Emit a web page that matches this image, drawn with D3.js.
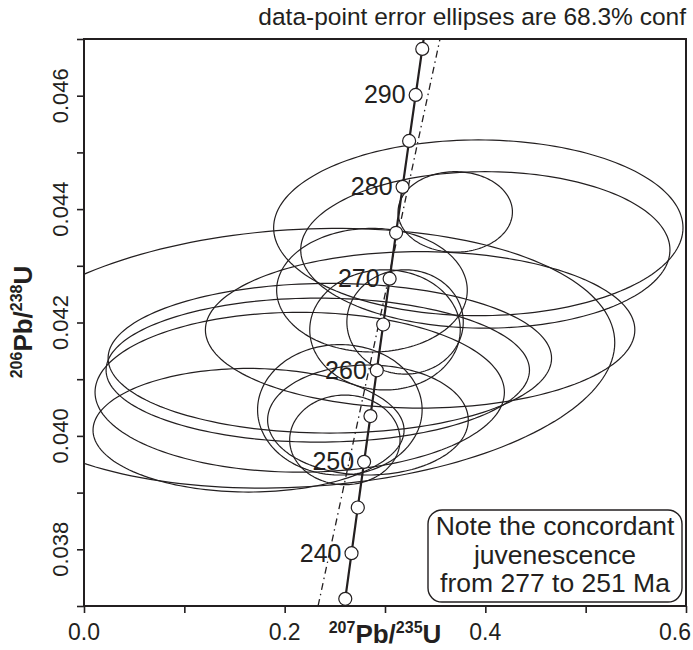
<!DOCTYPE html>
<html>
<head>
<meta charset="utf-8">
<script src="https://cdn.jsdelivr.net/npm/d3@7"></script>
<style>
  body { margin: 0; background: #fff; }
  text { font-family: "Liberation Sans", Arial, sans-serif; fill: #231f20; }
</style>
</head>
<body>
<svg id="chart" width="693" height="650"></svg>
<script>
// ---- data ----
// concordia age marks (Ma) and which of them carry a label
const markAges = [235, 240, 245, 250, 255, 260, 265, 270, 275, 280, 285, 290, 295];
const labelAges = [240, 250, 260, 270, 280, 290];

// analyses: ellipse centres (207Pb/235U, 206Pb/238U), half widths, error correlation
const ellX   = [0.393, 0.400, 0.370, 0.214, 0.335, 0.287, 0.233, 0.245, 0.215, 0.300, 0.320, 0.255, 0.260, 0.164, 0.283];
const ellY   = [0.04367, 0.04328, 0.04395, 0.04137, 0.04187, 0.04257, 0.04116, 0.04137, 0.04077, 0.04187, 0.04201, 0.04046, 0.03993, 0.04010, 0.04028];
const ellSX  = [0.204, 0.184, 0.057, 0.315, 0.214, 0.095, 0.211, 0.221, 0.204, 0.075, 0.058, 0.082, 0.055, 0.155, 0.100];
const ellSY  = [0.00155, 0.00138, 0.00071, 0.00229, 0.00138, 0.00109, 0.00127, 0.00132, 0.00141, 0.00106, 0.00092, 0.00115, 0.00079, 0.00109, 0.00097];
const ellRho = [0, 0, 0, 0.12, 0, 0, 0, 0, 0, 0, 0, 0, 0, 0, 0];

// dash-dot reference line end points
const refX = [0.2333, 0.3548];
const refY = [0.0370, 0.0470];

// axes
const xTicks = [0, 0.1, 0.2, 0.3, 0.4, 0.5, 0.6];
const xTickLabels = [0, 0.2, 0.4, 0.6];
const yTicks = [0.037, 0.038, 0.039, 0.040, 0.041, 0.042, 0.043, 0.044, 0.045, 0.046, 0.047];
const yTickLabels = [0.038, 0.040, 0.042, 0.044, 0.046];

// U decay constants (1/yr)
const L238 = 1.55125e-10, L235 = 9.8485e-10;
const conc = t => ({ x: Math.exp(L235 * t * 1e6) - 1, y: Math.exp(L238 * t * 1e6) - 1 });

// ---- layout ----
const svg = d3.select("#chart");
const m = { left: 84, top: 39, right: 686, bottom: 606 };
const x = d3.scaleLinear().domain([0, 0.6]).range([m.left, m.right]);
const y = d3.scaleLinear().domain([0.037, 0.047]).range([m.bottom, m.top]);
const ink = "#231f20";

svg.append("defs").append("clipPath").attr("id", "plot")
  .append("rect").attr("x", m.left).attr("y", m.top)
  .attr("width", m.right - m.left).attr("height", m.bottom - m.top);

const plot = svg.append("g").attr("clip-path", "url(#plot)");

// error ellipses
const ellLine = d3.line().x(d => x(d[0])).y(d => y(d[1])).curve(d3.curveLinearClosed);
const steps = d3.range(0, 2 * Math.PI, Math.PI / 90);
ellX.forEach((cx, i) => {
  const r = ellRho[i], sx = ellSX[i], sy = ellSY[i];
  const pts = steps.map(a => [cx + sx * Math.cos(a),
                              ellY[i] + sy * (r * Math.cos(a) + Math.sqrt(1 - r * r) * Math.sin(a))]);
  plot.append("path").attr("d", ellLine(pts))
    .attr("fill", "none").attr("stroke", ink).attr("stroke-width", 1.2);
});

// dash-dot line
plot.append("line")
  .attr("x1", x(refX[0])).attr("y1", y(refY[0]))
  .attr("x2", x(refX[1])).attr("y2", y(refY[1]))
  .attr("stroke", ink).attr("stroke-width", 1.3)
  .attr("stroke-dasharray", "7,4,1.5,4");

// concordia curve
const concPts = d3.range(230, 301, 0.5).map(conc);
plot.append("path")
  .attr("d", d3.line().x(d => x(d.x)).y(d => y(d.y))(concPts))
  .attr("fill", "none").attr("stroke", ink).attr("stroke-width", 2.2);

// age marks
plot.selectAll("circle.age").data(markAges).join("circle")
  .attr("class", "age")
  .attr("cx", t => x(conc(t).x)).attr("cy", t => y(conc(t).y)).attr("r", 6.5)
  .attr("fill", "#fff").attr("stroke", ink).attr("stroke-width", 1.2);

plot.selectAll("text.age").data(labelAges).join("text")
  .attr("class", "age")
  .attr("x", t => x(conc(t).x) - 10).attr("y", t => y(conc(t).y) + 8.5)
  .attr("text-anchor", "end").attr("font-size", 25)
  .text(t => t);

// frame
svg.append("rect").attr("x", m.left).attr("y", m.top)
  .attr("width", m.right - m.left).attr("height", m.bottom - m.top)
  .attr("fill", "none").attr("stroke", ink).attr("stroke-width", 2);

// x axis
const xAxis = svg.append("g").attr("transform", `translate(0,${m.bottom})`)
  .call(d3.axisBottom(x).tickValues(xTicks).tickSize(7).tickFormat(""));
xAxis.select(".domain").remove();
xAxis.selectAll(".tick line").attr("stroke", ink).attr("stroke-width", 1.6);
svg.append("g").selectAll("text").data(xTickLabels).join("text")
  .attr("x", (d, i) => i === xTickLabels.length - 1 ? 691 : x(d))
  .attr("y", 640)
  .attr("text-anchor", (d, i) => i === xTickLabels.length - 1 ? "end" : "middle")
  .attr("font-size", 23)
  .text(d => d3.format(".1f")(d));

// y axis
const yAxis = svg.append("g").attr("transform", `translate(${m.left},0)`)
  .call(d3.axisLeft(y).tickValues(yTicks).tickSize(7).tickFormat(""));
yAxis.select(".domain").remove();
yAxis.selectAll(".tick line").attr("stroke", ink).attr("stroke-width", 1.6);
svg.append("g").selectAll("text").data(yTickLabels).join("text")
  .attr("transform", d => `translate(68,${y(d)}) rotate(-90)`)
  .attr("text-anchor", "middle").attr("font-size", 22)
  .text(d => d3.format(".3f")(d));

// axis titles
const xt = svg.append("text").attr("x", 385).attr("y", 643)
  .attr("text-anchor", "middle").attr("font-weight", "bold").attr("font-size", 26);
xt.append("tspan").attr("font-size", 16).attr("dy", -10).text("207");
xt.append("tspan").attr("dy", 10).text("Pb/");
xt.append("tspan").attr("font-size", 16).attr("dy", -10).text("235");
xt.append("tspan").attr("dy", 10).text("U");

const yt = svg.append("text").attr("transform", "translate(32,322) rotate(-90)")
  .attr("text-anchor", "middle").attr("font-weight", "bold").attr("font-size", 26);
yt.append("tspan").attr("font-size", 16).attr("dy", -10).text("206");
yt.append("tspan").attr("dy", 10).text("Pb/");
yt.append("tspan").attr("font-size", 16).attr("dy", -10).text("238");
yt.append("tspan").attr("dy", 10).text("U");

// heading
svg.append("text").attr("x", 686).attr("y", 25).attr("text-anchor", "end")
  .attr("font-size", 24.5).text("data-point error ellipses are 68.3% conf");

// note box
svg.append("rect").attr("x", 428).attr("y", 510).attr("width", 254).attr("height", 92)
  .attr("rx", 14).attr("fill", "#fff").attr("stroke", ink).attr("stroke-width", 1.4);
const noteLines = ["Note the concordant", "juvenescence", "from 277 to 251 Ma"];
svg.append("g").selectAll("text").data(noteLines).join("text")
  .attr("x", 555).attr("y", (d, i) => 535 + i * 28.5)
  .attr("text-anchor", "middle").attr("font-size", 26.5)
  .text(d => d);
</script>
</body>
</html>
